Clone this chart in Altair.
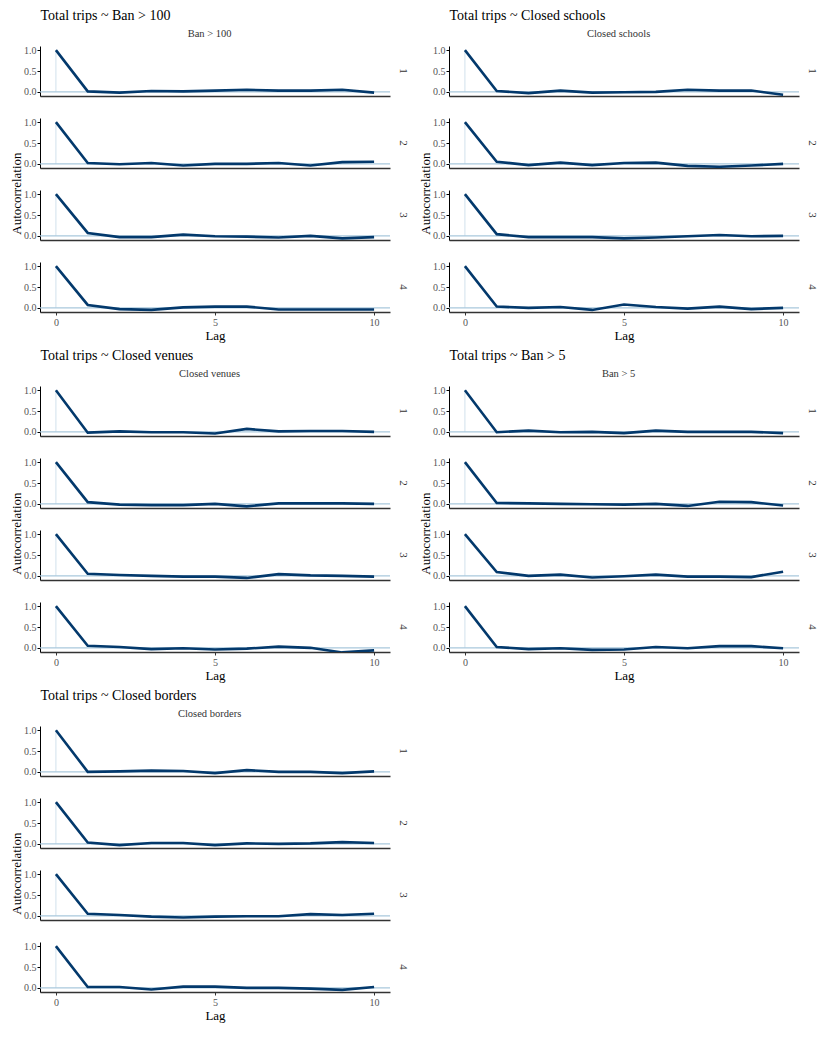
import altair as alt
import pandas as pd

lags = list(range(11))
chains = ["1", "2", "3", "4"]
params = ["Ban > 100", "Closed schools", "Closed venues", "Ban > 5", "Closed borders"]

ban100_c1 = [1.0, 0.01, -0.02, 0.02, 0.01, 0.03, 0.05, 0.03, 0.03, 0.05, -0.02]
ban100_c2 = [1.0, 0.02, -0.01, 0.02, -0.04, 0.0, 0.0, 0.02, -0.04, 0.04, 0.05]
ban100_c3 = [1.0, 0.07, -0.03, -0.03, 0.03, -0.01, -0.02, -0.04, 0.0, -0.06, -0.03]
ban100_c4 = [1.0, 0.07, -0.03, -0.05, 0.01, 0.03, 0.03, -0.04, -0.04, -0.04, -0.04]

schools_c1 = [1.0, 0.02, -0.03, 0.03, -0.02, -0.01, 0.0, 0.05, 0.03, 0.03, -0.07]
schools_c2 = [1.0, 0.05, -0.03, 0.03, -0.03, 0.02, 0.03, -0.05, -0.07, -0.04, 0.0]
schools_c3 = [1.0, 0.04, -0.03, -0.03, -0.03, -0.06, -0.04, -0.01, 0.02, -0.01, 0.0]
schools_c4 = [1.0, 0.03, 0.0, 0.02, -0.05, 0.08, 0.02, -0.02, 0.03, -0.03, 0.0]

venues_c1 = [1.0, -0.02, 0.01, -0.01, -0.01, -0.04, 0.07, 0.01, 0.02, 0.02, 0.0]
venues_c2 = [1.0, 0.04, -0.02, -0.03, -0.03, 0.0, -0.06, 0.01, 0.01, 0.01, 0.0]
venues_c3 = [1.0, 0.05, 0.02, 0.0, -0.02, -0.02, -0.05, 0.04, 0.01, 0.0, -0.02]
venues_c4 = [1.0, 0.05, 0.02, -0.03, -0.01, -0.04, -0.02, 0.03, 0.0, -0.11, -0.06]

ban5_c1 = [1.0, -0.01, 0.03, -0.01, 0.0, -0.03, 0.03, 0.0, 0.0, 0.0, -0.03]
ban5_c2 = [1.0, 0.02, 0.01, 0.0, -0.01, -0.02, 0.0, -0.05, 0.05, 0.04, -0.04]
ban5_c3 = [1.0, 0.09, 0.0, 0.03, -0.04, -0.01, 0.03, -0.02, -0.02, -0.03, 0.1]
ban5_c4 = [1.0, 0.02, -0.03, -0.01, -0.05, -0.04, 0.02, -0.01, 0.04, 0.04, -0.01]

borders_c1 = [1.0, 0.0, 0.01, 0.03, 0.02, -0.03, 0.04, 0.0, 0.0, -0.03, 0.01]
borders_c2 = [1.0, 0.03, -0.03, 0.02, 0.02, -0.03, 0.01, 0.0, 0.01, 0.04, 0.02]
borders_c3 = [1.0, 0.05, 0.02, -0.02, -0.04, -0.02, -0.01, -0.01, 0.04, 0.02, 0.05]
borders_c4 = [1.0, 0.02, 0.02, -0.04, 0.03, 0.03, 0.0, 0.0, -0.02, -0.05, 0.02]

series = {
    "Ban > 100": [ban100_c1, ban100_c2, ban100_c3, ban100_c4],
    "Closed schools": [schools_c1, schools_c2, schools_c3, schools_c4],
    "Closed venues": [venues_c1, venues_c2, venues_c3, venues_c4],
    "Ban > 5": [ban5_c1, ban5_c2, ban5_c3, ban5_c4],
    "Closed borders": [borders_c1, borders_c2, borders_c3, borders_c4],
}

rows = []
for p in params:
    for ci, c in enumerate(chains):
        for l, v in zip(lags, series[p][ci]):
            rows.append({"param": p, "chain": c, "lag": l, "acf": v, "zero": 0.0})
df = pd.DataFrame(rows)

FONT = "Liberation Serif"
W, H = 350, 50

def row_chart(p, ci):
    c = chains[ci]
    d = df[(df.param == p) & (df.chain == c)]
    if ci == 3:
        xaxis = alt.Axis(values=[0, 5, 10], title="Lag", tickSize=3, labelPadding=2, titlePadding=2)
    else:
        xaxis = alt.Axis(values=[0, 5, 10], labels=False, ticks=False, title=None)
    yaxis = alt.Axis(values=[0, 0.5, 1.0], format=".1f", title=None, labelPadding=1)
    xs = alt.Scale(domain=[-0.5, 10.5], nice=False, zero=False)
    ys = alt.Scale(domain=[-0.1, 1.1], nice=False)
    base = alt.Chart()
    vrule = base.mark_rule(color="#d1e1ec", strokeWidth=1).transform_filter(
        alt.datum.lag == 0
    ).encode(
        x=alt.X("lag:Q", scale=xs, axis=xaxis),
        y=alt.Y("zero:Q", scale=ys, axis=yaxis),
        y2="acf:Q",
    )
    hrule = base.mark_rule(color="#a9c8dc", strokeWidth=1.3).transform_filter(
        alt.datum.lag == 0
    ).encode(y=alt.Y("zero:Q", scale=ys, axis=yaxis))
    line = base.mark_line(color="#03396c", strokeWidth=2.6, clip=True).encode(
        x=alt.X("lag:Q", scale=xs, axis=xaxis),
        y=alt.Y("acf:Q", scale=ys, axis=yaxis),
    )
    return alt.layer(vrule, hrule, line, data=d).properties(
        width=W, height=H,
        title=alt.Title(c, orient="right", anchor="middle", font=FONT, fontSize=11,
                        fontWeight="normal", color="#333", offset=7),
    )

def panel(p):
    rows_v = alt.VConcatChart(
        vconcat=[row_chart(p, i) for i in range(4)],
        spacing=20,
        title=alt.Title("Autocorrelation", orient="left", anchor="middle", font=FONT,
                        fontSize=13, fontWeight="normal", color="#000", offset=0),
    )
    hdr_v = alt.VConcatChart(
        vconcat=[rows_v],
        title=alt.Title(p, anchor="middle", font=FONT, fontSize=10.5,
                        fontWeight="normal", color="#333", offset=6),
    )
    return alt.VConcatChart(
        vconcat=[hdr_v],
        title=alt.Title("Total trips ~ " + p, anchor="start", font=FONT, fontSize=14,
                        fontWeight="normal", color="#000", offset=6, dx=30),
    )

top = alt.hconcat(panel(params[0]), panel(params[1]), spacing=10)
mid = alt.hconcat(panel(params[2]), panel(params[3]), spacing=10)
bot = alt.hconcat(panel(params[4]), spacing=10)

chart = alt.vconcat(
    top, mid, bot, spacing=6,
    padding={"left": 2, "top": 0, "right": 0, "bottom": 5},
).configure_view(stroke=None).configure_axis(
    labelFont=FONT, titleFont=FONT, labelFontSize=10, titleFontSize=13,
    labelColor="#555", titleColor="#000", titleFontWeight="normal", grid=False,
    tickColor="#333", labelPadding=2, titlePadding=2,
).configure_axisY(domainColor="#000", domainWidth=1, tickColor="#000", tickSize=3).configure_axisX(
    domainColor="#333", domainWidth=1.6
)

chart.save("out.html", embed_options={"renderer": "svg", "actions": False})
